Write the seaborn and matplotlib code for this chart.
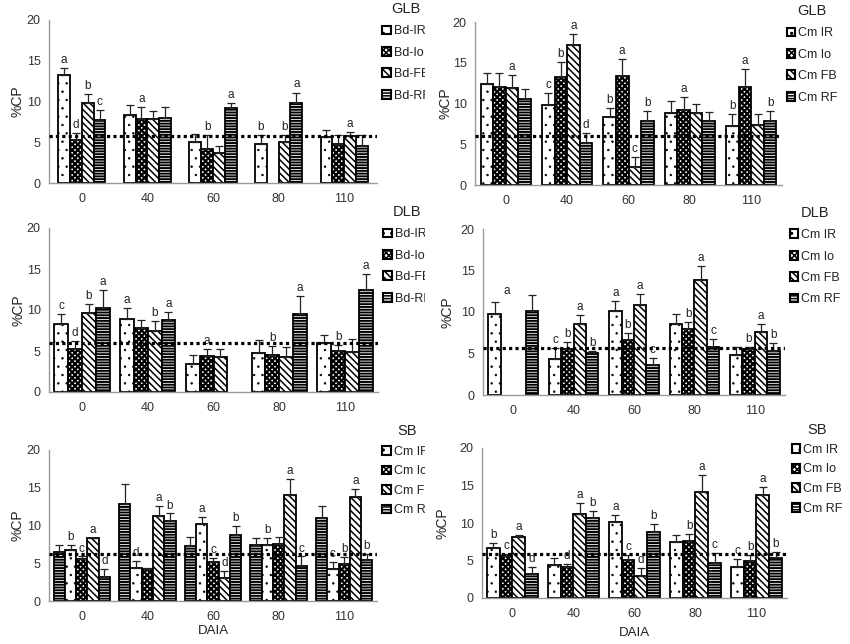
import numpy as np
import pandas as pd
import matplotlib
matplotlib.use('Agg')
import matplotlib.pyplot as plt
import seaborn as sns
from matplotlib.patches import Patch
from matplotlib.container import BarContainer
from matplotlib.transforms import Bbox, TransformedBbox

nan = np.nan
days = ['0', '40', '60', '80', '110']

# --- GLB, Bd (arriba izquierda) --- orden: IR, Io, FB, RF
glb_bd_names = ['Bd-IR', 'Bd-Io', 'Bd-FB', 'Bd-RF']
glb_bd_cp = [[13.3, 8.3, 5.0, 4.8, 5.7],
             [5.3, 7.8, 4.2, nan, 4.8],
             [9.8, 7.8, 3.7, 5.0, 5.8],
             [7.7, 8.0, 9.2, 9.8, 4.5]]
glb_bd_se = [[0.8, 1.3, 1.0, 1.1, 0.8],
             [0.8, 1.5, 1.7, nan, 1.1],
             [1.1, 1.0, 0.9, 0.9, 0.5],
             [1.3, 1.3, 0.6, 1.3, 1.4]]
glb_bd_let = [['a', '', '', 'b', ''],
              ['d', 'a', 'b', '', ''],
              ['b', '', '', 'b', 'a'],
              ['c', '', 'a', 'a', '']]

# --- GLB, Cm (arriba derecha) ---
glb_cm_names = ['Cm IR', 'Cm Io', 'Cm FB', 'Cm RF']
glb_cm_cp = [[12.45, 9.8, 8.3, 8.8, 7.2],
             [12.0, 13.2, 13.35, 9.2, 12.0],
             [11.95, 17.2, 2.2, 8.8, 7.4],
             [10.6, 5.2, 7.9, 7.9, 7.9]]
glb_cm_se = [[1.25, 1.5, 1.2, 1.5, 1.5],
             [1.7, 1.9, 2.15, 1.6, 2.2],
             [1.55, 1.3, 1.2, 1.1, 1.3],
             [1.2, 1.2, 1.2, 1.0, 1.2]]
glb_cm_let = [['', 'c', 'b', '', 'b'],
              ['', 'b', 'a', 'a', 'a'],
              ['a', 'a', 'c', '', ''],
              ['', 'd', 'b', '', 'b']]

# --- DLB, Bd (medio izquierda) ---
dlb_bd_cp = [[8.3, 8.9, 3.45, 4.8, 6.0],
             [5.3, 7.8, 4.35, 4.5, 5.0],
             [9.6, 7.4, 4.3, 4.3, 4.9],
             [10.2, 8.8, nan, 9.5, 12.4]]
dlb_bd_se = [[1.2, 1.3, 1.05, 1.5, 0.9],
             [0.9, 1.0, 0.85, 1.1, 0.7],
             [1.1, 1.3, 0.9, 1.2, 1.6],
             [2.2, 1.0, nan, 2.2, 2.0]]
dlb_bd_let = [['c', 'a', '', '', ''],
              ['d', '', 'a', 'b', 'b'],
              ['b', 'b', '', '', ''],
              ['a', 'a', '', 'a', 'a']]

# --- DLB, Cm (medio derecha) ---
dlb_cm_cp = [[9.7, 4.3, 10.1, 8.6, 4.8],
             [nan, 5.5, 6.6, 7.95, 5.5],
             [nan, 8.5, 10.8, 13.8, 7.55],
             [10.1, 5.1, 3.6, 5.8, 5.3]]
dlb_cm_se = [[1.5, 1.4, 1.2, 1.2, 1.0],
             [nan, 0.9, 0.9, 0.85, 0.3],
             [nan, 1.1, 1.4, 1.7, 1.0],
             [2.0, 0.2, 0.9, 0.9, 1.0]]
dlb_cm_let = [['', 'c', 'a', '', ''],
              ['a', 'b', 'b', 'b', 'b'],
              ['', 'a', 'a', 'a', 'a'],
              ['', 'b', 'c', 'c', 'b']]

# --- SB (abajo izquierda), con una serie extra superpuesta ---
sb_l_names = ['RF*', 'Cm IR', 'Cm Io', 'Cm FB', 'Cm RF']
sb_l_cp = [[6.5, 12.9, 7.3, 7.4, 11.0],
           [6.8, 4.4, 10.2, 7.4, 4.2],
           [5.5, 4.3, 5.1, 7.6, 4.9],
           [8.3, 11.2, 3.0, 14.0, 13.8],
           [3.2, 10.6, 8.8, 4.7, 5.4]]
sb_l_se = [[0.9, 2.6, 1.2, 1.0, 1.6],
           [0.6, 0.9, 0.9, 1.0, 1.0],
           [0.4, 0.1, 0.6, 0.9, 0.9],
           [0.1, 1.4, 1.0, 2.2, 1.0],
           [1.1, 1.0, 1.1, 1.2, 0.8]]
sb_l_let = [['', '', '', '', ''],
            ['b', 'd', 'a', 'b', 'c'],
            ['c', '', 'c', '', 'b'],
            ['a', 'a', 'd', 'a', 'a'],
            ['d', 'b', 'b', 'c', 'b']]

# --- SB, Cm (abajo derecha) ---
sb_cm_cp = [[6.7, 4.35, 10.2, 7.5, 4.2],
            [5.55, 4.2, 5.1, 7.6, 4.9],
            [8.2, 11.2, 3.0, 14.1, 13.8],
            [3.2, 10.7, 8.8, 4.7, 5.4]]
sb_cm_se = [[0.6, 0.95, 0.9, 0.9, 1.0],
            [0.3, 0.3, 0.7, 0.9, 0.9],
            [0.15, 1.5, 1.0, 2.3, 1.0],
            [1.0, 0.9, 1.1, 1.3, 0.8]]
sb_cm_let = [['b', '', 'a', '', 'c'],
             ['c', 'd', 'c', 'b', 'b'],
             ['a', 'a', 'd', 'a', 'a'],
             ['d', 'b', 'b', 'c', 'b']]

# niveles de referencia (línea punteada)
ref_glb_bd, ref_glb_cm = 5.8, 6.0
ref_dlb_bd, ref_dlb_cm = 6.0, 5.7
ref_sb_l, ref_sb_cm = 6.2, 5.9

# tramas: IR puntos, Io trama oscura, FB diagonal, RF horizontal
H_IR, H_IO, H_FB, H_RF = '..', 'xxxxxx', '\\\\\\\\\\', '------'
HLW = {H_IR: 0.5, H_IO: 1.6, H_FB: 1.1, H_RF: 1.4}

sns.set_style('white')
plt.rcParams['font.family'] = ['Liberation Sans Narrow', 'Liberation Sans', 'DejaVu Sans']
plt.rcParams['hatch.linewidth'] = 1.1
GRIS = '#9a9a9a'

fig = plt.figure(figsize=(8.5, 6.44), dpi=100)
W, H = 850, 644
# la columna izquierda viene recortada a 425 px en el original
corte = TransformedBbox(Bbox([[0, 0], [425 / W, 1]]), fig.transFigure)


def trama(p, h):
    p.set_hatch(h)
    if hasattr(p, 'set_hatch_linewidth'):
        p.set_hatch_linewidth(HLW[h])


def panel(ax, names, cp, se, letras, hatches, ancho, ref, titulo, leg_names,
          leg_hatches, ylab_x, leg_y=1.1, leg_sp=0.75, xlabel=None, xlab_y=-0.2,
          recorta=False):
    filas = []
    for k, n in enumerate(names):
        for j, d in enumerate(days):
            filas.append({'DAIA': d, 'trt': n, 'cp': cp[k][j]})
    df = pd.DataFrame(filas)
    sns.barplot(data=df, x='DAIA', y='cp', hue='trt', order=days, hue_order=names,
                palette={n: 'white' for n in names}, edgecolor='black', linewidth=1.3,
                width=ancho, errorbar=None, legend=False, saturation=1, ax=ax)

    barras = [c for c in ax.containers if isinstance(c, BarContainer)]
    centros = {}
    for k, cont in enumerate(barras):
        for bar in cont:
            if bar is None:
                continue
            h = bar.get_height()
            if not np.isfinite(h):
                continue
            x = bar.get_x() + bar.get_width() / 2
            j = int(round(x))
            centros[(k, j)] = x
            trama(bar, hatches[k])
            e = se[k][j]
            ax.errorbar(x, h, yerr=[[0], [e]], fmt='none', ecolor='#222222',
                        elinewidth=0.9, capsize=3, capthick=0.9, zorder=3)

    n = len(names)
    paso = ancho / n
    for k in range(n):
        for j in range(len(days)):
            txt = letras[k][j]
            if not txt:
                continue
            if (k, j) in centros:
                x = centros[(k, j)]
                y = cp[k][j] + se[k][j]
            else:
                x = j + paso * (k - (n - 1) / 2)
                tops = [cp[i][j] + se[i][j] for i in range(n) if np.isfinite(cp[i][j])]
                y = max(tops) - 0.6
            ax.text(x, y + 0.25, txt, ha='center', va='bottom', fontsize=8.5,
                    color='#222222', zorder=4)

    ax.axhline(ref, color='black', lw=2.3, ls=(0, (1, 1)), zorder=5)

    ax.set_ylim(0, 20)
    ax.set_xlim(-0.5, 4.5)
    ax.set_yticks([0, 5, 10, 15, 20])
    sns.despine(ax=ax)
    for s in ['left', 'bottom']:
        ax.spines[s].set_color(GRIS)
        ax.spines[s].set_linewidth(1.0)
    ax.tick_params(axis='y', length=3, color=GRIS, labelsize=9, labelcolor='#333333', pad=3)
    ax.tick_params(axis='x', length=0, labelsize=9, labelcolor='#333333', pad=7)
    ax.set_ylabel('%CP', fontsize=10, color='#222222')
    ax.yaxis.set_label_coords(ylab_x, 0.5)
    if xlabel:
        ax.set_xlabel(xlabel, fontsize=9.5, color='#222222')
        ax.xaxis.set_label_coords(0.5, xlab_y)
    else:
        ax.set_xlabel('')

    handles = []
    for h in leg_hatches:
        p = Patch(facecolor='white', edgecolor='black', linewidth=1.5)
        trama(p, h)
        handles.append(p)
    leg = ax.legend(handles, leg_names, title=titulo, loc='upper left',
                    bbox_to_anchor=(1.015, leg_y), frameon=False, fontsize=9,
                    title_fontsize=10.5, handlelength=0.7, handleheight=0.7,
                    handletextpad=0.25, labelspacing=leg_sp, borderaxespad=0,
                    borderpad=0)
    leg.get_title().set_color('#222222')
    for t in leg.get_texts():
        t.set_color('#222222')
        if recorta:
            t.set_clip_box(corte)
            t.set_clip_on(True)


def caja(x0, x1, ytop, ybot):
    return [x0 / W, 1 - ybot / H, (x1 - x0) / W, (ybot - ytop) / H]


hat4 = [H_IR, H_IO, H_FB, H_RF]

ax1 = fig.add_axes(caja(49, 377, 20, 183))
panel(ax1, glb_bd_names, glb_bd_cp, glb_bd_se, glb_bd_let, hat4, 0.72, ref_glb_bd,
      'GLB', glb_bd_names, hat4, -0.076, leg_y=1.11, recorta=True)

ax2 = fig.add_axes(caja(475, 782, 22, 185))
panel(ax2, glb_cm_names, glb_cm_cp, glb_cm_se, glb_cm_let, hat4, 0.82, ref_glb_cm,
      'GLB', glb_cm_names, hat4, -0.072, leg_y=1.11)

ax3 = fig.add_axes(caja(49, 378, 228, 392))
panel(ax3, glb_bd_names, dlb_bd_cp, dlb_bd_se, dlb_bd_let, hat4, 0.84, ref_dlb_bd,
      'DLB', glb_bd_names, hat4, -0.07, leg_y=1.14, recorta=True)

ax4 = fig.add_axes(caja(483, 785, 229, 395))
panel(ax4, glb_cm_names, dlb_cm_cp, dlb_cm_se, dlb_cm_let, hat4, 0.82, ref_dlb_cm,
      'DLB', glb_cm_names, hat4, -0.096, leg_y=1.14)

ax5 = fig.add_axes(caja(49, 377, 450, 601))
panel(ax5, sb_l_names, sb_l_cp, sb_l_se, sb_l_let, [H_RF] + hat4, 0.86, ref_sb_l,
      'SB', glb_cm_names, hat4, -0.076, leg_y=1.17, leg_sp=0.6, xlabel='DAIA',
      xlab_y=-0.16, recorta=True)

ax6 = fig.add_axes(caja(482, 787, 448, 598))
panel(ax6, glb_cm_names, sb_cm_cp, sb_cm_se, sb_cm_let, hat4, 0.84, ref_sb_cm,
      'SB', glb_cm_names, hat4, -0.108, leg_y=1.17, leg_sp=0.6, xlabel='DAIA',
      xlab_y=-0.19)

fig.savefig('out.png', dpi=100)
